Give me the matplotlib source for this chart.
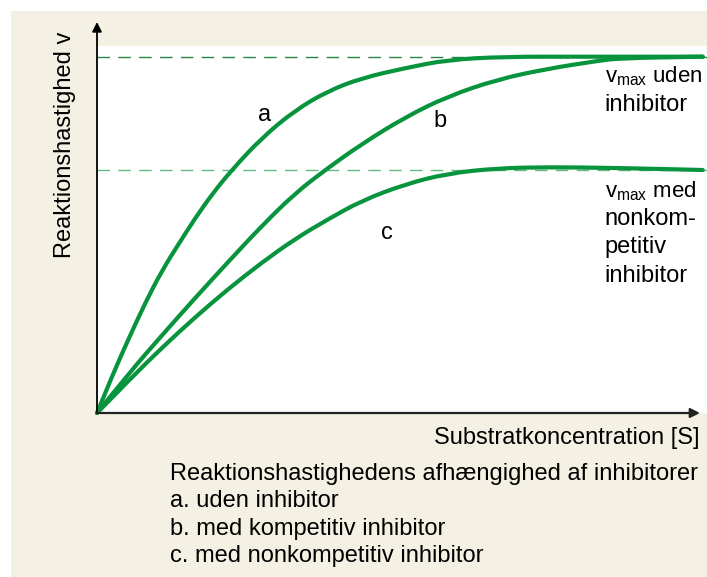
import matplotlib
matplotlib.use('Agg')
import matplotlib.pyplot as plt
from matplotlib.patches import Rectangle, PathPatch
from matplotlib.path import Path

plt.rcParams['font.family'] = ['Liberation Sans', 'DejaVu Sans']
plt.rcParams['mathtext.fontset'] = 'custom'
plt.rcParams['mathtext.rm'] = 'Liberation Sans'
plt.rcParams['mathtext.it'] = 'Liberation Sans'

# ── Data (S and v in arbitrary units, vmax = 100) ──
s_a = [0, 2.6, 5.1, 7.9, 10.7, 13.3, 16.1, 19.0, 22.1, 27.0, 32.5, 37.9, 43.4,
       50.5, 57.4, 66.6, 80, 99.3]
v_a = [0, 10.9, 20.5, 30.9, 40.1, 47.2, 54.7, 61.7, 68.2, 77.2, 85.0, 90.4, 94.0,
       96.8, 99.1, 100, 100, 100]

s_b = [0, 5.4, 10.7, 16.1, 21.5, 27.0, 32.5, 37.4, 43.4, 50.5, 57.4, 65.6, 73.8,
       82.0, 85.7, 99.3]
v_b = [0, 11.5, 21.9, 32.3, 42.4, 52.5, 61.7, 68.2, 75.5, 83.0, 88.8, 93.6, 96.6,
       98.8, 99.6, 100]

s_c = [0, 5.4, 10.7, 16.1, 21.5, 27.0, 32.5, 37.9, 43.4, 50.5, 57.4, 65.6, 73.8,
       84.6, 99.3]
v_c = [0, 9.5, 18.4, 26.9, 34.8, 42.2, 48.9, 54.4, 59.6, 64.2, 67.2, 68.7, 69.0,
       68.8, 68.2]

vmax_free = 100
vmax_nonkomp = 68.2

GREEN = '#07943d'
BEIGE = '#f4f1e4'


def smooth_path(xs, ys):
    # quadratic bezier through midpoints, the read points act as control points
    pts = list(zip(xs, ys))
    verts = [pts[0]]
    codes = [Path.MOVETO]
    for i in range(1, len(pts) - 1):
        mid = ((pts[i][0] + pts[i + 1][0]) / 2, (pts[i][1] + pts[i + 1][1]) / 2)
        verts += [pts[i], mid]
        codes += [Path.CURVE3, Path.CURVE3]
    verts.append(pts[-1])
    codes.append(Path.LINETO)
    return Path(verts, codes)


fig = plt.figure(figsize=(7.07, 5.77), dpi=100)
fig.patch.set_facecolor('white')
fig.patches.append(Rectangle((11 / 707, 0), 1, 566 / 577, transform=fig.transFigure,
                             facecolor=BEIGE, edgecolor='none', zorder=-5))

ax = fig.add_axes([97 / 707, 164 / 577, 610 / 707, 367 / 577])
ax.set_zorder(1)
ax.set_facecolor('white')
ax.set_xlim(0, 100)
ax.set_ylim(0, 103)
for sp in ax.spines.values():
    sp.set_visible(False)
ax.set_xticks([])
ax.set_yticks([])

# dashed vmax levels
ax.axhline(vmax_free, color='#2a8447', lw=1.0, ls=(0, (9, 6)), zorder=1)
ax.axhline(vmax_nonkomp, color='#63b981', lw=1.0, ls=(0, (9, 6)), zorder=1)

for s, v in [(s_a, v_a), (s_b, v_b), (s_c, v_c)]:
    ax.add_patch(PathPatch(smooth_path(s, v), facecolor='none', edgecolor=GREEN,
                           lw=3.0, capstyle='round', joinstyle='round',
                           zorder=3, clip_on=False))

# axes with arrows
ax.annotate('', xy=(0, 391 / 367), xytext=(0, 0), xycoords='axes fraction',
            arrowprops=dict(arrowstyle='-|>', color='black', lw=1.3,
                            mutation_scale=14, shrinkA=0, shrinkB=0))
ax.annotate('', xy=(603 / 610, 0), xytext=(0, 0), xycoords='axes fraction',
            arrowprops=dict(arrowstyle='-|>', color='#222222', lw=1.6,
                            mutation_scale=14, shrinkA=0, shrinkB=0))

# curve labels
fs = 17
ax.text(27.4, 83.6, 'a', fontsize=fs, ha='center', va='center')
ax.text(56.2, 82.0, 'b', fontsize=fs, ha='center', va='center')
ax.text(47.5, 50.4, 'c', fontsize=fs, ha='center', va='center')

right_lines = ['v$_{\\mathregular{max}}$ uden', 'inhibitor',
               'v$_{\\mathregular{max}}$ med', 'nonkom-', 'petitiv', 'inhibitor']
right_base = [92.9, 84.8, 60.6, 52.8, 44.9, 36.8]
right_size = [16, fs, 16, fs, fs, fs]
for line, yb, size in zip(right_lines, right_base, right_size):
    ax.text(83.2, yb, line, fontsize=size, ha='left', va='baseline')

# axis titles and caption
fig.text(65 / 707, 1 - 145 / 577, 'Reaktionshastighed v', fontsize=fs,
         rotation=90, ha='center', va='center')
fig.text(700 / 707, 1 - 438 / 577, 'Substratkoncentration [S]', fontsize=fs,
         ha='right', va='center')

caption = ['Reaktionshastighedens afhængighed af inhibitorer',
           'a. uden inhibitor',
           'b. med kompetitiv inhibitor',
           'c. med nonkompetitiv inhibitor']
for i, line in enumerate(caption):
    fig.text(170 / 707, 1 - (474 + i * 27.3) / 577, line, fontsize=fs,
             ha='left', va='center')

fig.savefig('out.png', dpi=100)
